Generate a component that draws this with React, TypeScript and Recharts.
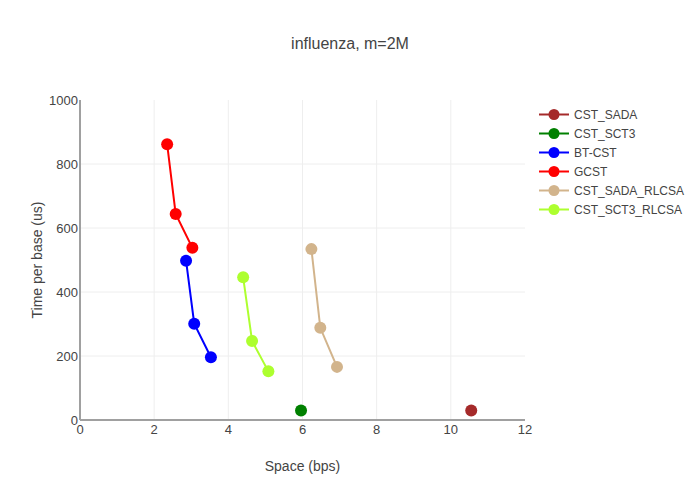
import React from 'react';
import { ScatterChart, Scatter, XAxis, YAxis, CartesianGrid } from 'recharts';

const seriesNames = ['CST_SADA', 'CST_SCT3', 'BT-CST', 'GCST', 'CST_SADA_RLCSA', 'CST_SCT3_RLCSA'];
const seriesColors = ['#a52a2a', '#008000', '#0000ff', '#ff0000', '#d2b48c', '#adff2f'];

const cstSada = [{ x: 10.55, y: 30 }];
const cstSct3 = [{ x: 5.96, y: 30 }];
const btCst = [{ x: 2.86, y: 498 }, { x: 3.08, y: 301 }, { x: 3.53, y: 196 }];
const gcst = [{ x: 2.35, y: 862 }, { x: 2.58, y: 644 }, { x: 3.03, y: 538 }];
const cstSadaRlcsa = [{ x: 6.24, y: 534 }, { x: 6.48, y: 288 }, { x: 6.93, y: 166 }];
const cstSct3Rlcsa = [{ x: 4.4, y: 446 }, { x: 4.64, y: 247 }, { x: 5.08, y: 152 }];

const seriesData = [cstSada, cstSct3, btCst, gcst, cstSadaRlcsa, cstSct3Rlcsa];

const xTicks = [0, 2, 4, 6, 8, 10, 12];
const yTicks = [0, 200, 400, 600, 800, 1000];
const xGrid = [2, 4, 6, 8, 10];
const yGrid = [200, 400, 600, 800];

const titleText = 'influenza, m=2M';
const xTitle = 'Space (bps)';
const yTitle = 'Time per base (us)';

const FONT = '"Liberation Sans", Arial, sans-serif';
const TXT = '#444';

export default function App() {
  return (
    <div style={{ position: 'absolute', left: 0, top: 0, width: 700, height: 500, background: '#fff', fontFamily: FONT }}>
      <ScatterChart width={700} height={500} margin={{ top: 100, right: 175, bottom: 50, left: 20 }}>
        <CartesianGrid stroke="#eeeeee" strokeWidth={1} horizontalValues={yGrid} verticalValues={xGrid} />
        <XAxis
          type="number"
          dataKey="x"
          domain={[0, 12]}
          ticks={xTicks}
          interval={0}
          height={30}
          tickLine={false}
          tickSize={0}
          tickMargin={5}
          axisLine={{ stroke: '#a0a0a0', strokeWidth: 2 }}
          tick={{ fill: TXT, fontSize: 13, fontFamily: FONT }}
          allowDataOverflow
        />
        <YAxis
          type="number"
          dataKey="y"
          domain={[0, 1000]}
          ticks={yTicks}
          interval={0}
          width={60}
          tickLine={false}
          tickSize={0}
          tickMargin={2}
          axisLine={{ stroke: '#a0a0a0', strokeWidth: 2 }}
          tick={{ fill: TXT, fontSize: 13, fontFamily: FONT }}
          allowDataOverflow
        />
        {seriesData.map((d, i) => (
          <Scatter
            key={seriesNames[i]}
            name={seriesNames[i]}
            data={d}
            fill={seriesColors[i]}
            line={{ stroke: seriesColors[i], strokeWidth: 2 }}
            lineType="joint"
            shape={(p: any) => <circle cx={p.cx} cy={p.cy} r={6} fill={seriesColors[i]} />}
            isAnimationActive={false}
          />
        ))}
      </ScatterChart>
      <div style={{ position: 'absolute', left: 0, width: 700, top: 35, textAlign: 'center', fontSize: 16, color: TXT }}>{titleText}</div>
      <div style={{ position: 'absolute', left: 80, width: 445, top: 458, textAlign: 'center', fontSize: 14, color: TXT }}>{xTitle}</div>
      <div style={{ position: 'absolute', left: 37, top: 260, width: 0, height: 0 }}>
        <div style={{ position: 'absolute', transform: 'translate(-50%, -50%) rotate(-90deg)', whiteSpace: 'nowrap', fontSize: 14, color: TXT }}>{yTitle}</div>
      </div>
      <div style={{ position: 'absolute', left: 539, top: 105 }}>
        {seriesNames.map((n, i) => (
          <div key={n} style={{ display: 'flex', alignItems: 'center', height: 19 }}>
            <svg width={30} height={19} style={{ display: 'block' }}>
              <line x1={0} x2={30} y1={9.5} y2={9.5} stroke={seriesColors[i]} strokeWidth={2} />
              <circle cx={15} cy={9.5} r={5.5} fill={seriesColors[i]} />
            </svg>
            <span style={{ marginLeft: 5, fontSize: 12, color: TXT }}>{n}</span>
          </div>
        ))}
      </div>
    </div>
  );
}
